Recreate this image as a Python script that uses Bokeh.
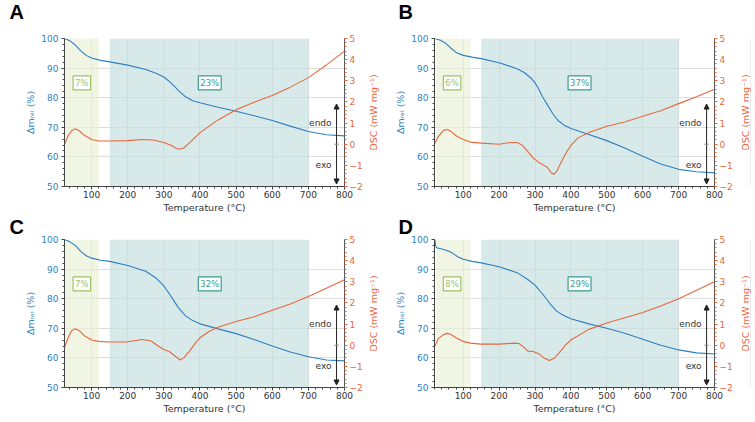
from bokeh.plotting import figure
from bokeh.models import (Range1d, LinearAxis, SingleIntervalTicker, BoxAnnotation,
                          Label, Arrow, NormalHead, Title, Spacer)
from bokeh.layouts import column, row
from bokeh.embed import file_html
from bokeh.resources import INLINE

# ---------------- data ----------------
A_T_TG = [25, 40, 55, 70, 85, 100, 125, 150, 200, 250, 280, 300, 320, 340, 360, 380, 400, 450, 500, 550, 600, 650, 700, 750, 800]
A_TG = [100, 99.2, 97.8, 95.8, 94.3, 93.4, 92.6, 92.1, 91.0, 89.5, 88.2, 87.0, 85.0, 82.5, 80.3, 79.0, 78.3, 76.8, 75.4, 73.9, 72.3, 70.4, 68.6, 67.5, 67.1]
A_T_DSC = [25, 35, 45, 55, 65, 80, 100, 120, 150, 200, 240, 270, 300, 320, 335, 345, 355, 370, 385, 400, 450, 500, 550, 600, 650, 700, 750, 800]
A_DSC = [0.0, 0.4, 0.65, 0.73, 0.65, 0.42, 0.22, 0.15, 0.15, 0.17, 0.22, 0.2, 0.08, -0.05, -0.2, -0.24, -0.18, 0.05, 0.3, 0.55, 1.15, 1.63, 1.98, 2.3, 2.7, 3.15, 3.75, 4.4]

B_T_TG = [20, 35, 50, 65, 80, 100, 125, 150, 200, 250, 270, 290, 300, 310, 320, 335, 350, 365, 380, 400, 450, 500, 550, 600, 650, 700, 750, 800]
B_TG = [100, 99.5, 98.5, 96.8, 95.3, 94.3, 93.7, 93.2, 91.8, 89.8, 88.5, 86.5, 85.0, 83.0, 80.5, 77.5, 74.5, 72.2, 70.8, 69.6, 67.6, 65.5, 63.0, 60.2, 57.6, 55.8, 55.0, 54.6]
B_T_DSC = [20, 30, 45, 55, 65, 80, 100, 120, 150, 200, 230, 250, 265, 280, 295, 310, 325, 335, 345, 352, 360, 370, 385, 400, 420, 450, 500, 550, 600, 650, 700, 750, 800]
B_DSC = [0.0, 0.35, 0.65, 0.7, 0.62, 0.4, 0.22, 0.1, 0.05, 0.0, 0.08, 0.08, -0.05, -0.35, -0.65, -0.85, -1.0, -1.1, -1.35, -1.42, -1.3, -0.95, -0.45, -0.05, 0.3, 0.55, 0.85, 1.05, 1.32, 1.58, 1.92, 2.25, 2.6]

C_T_TG = [25, 40, 55, 70, 85, 100, 125, 150, 200, 250, 280, 300, 320, 340, 360, 380, 400, 450, 500, 550, 600, 650, 700, 750, 800]
C_TG = [100, 99.2, 98.0, 96.0, 94.5, 93.7, 93.0, 92.6, 91.2, 89.3, 86.8, 84.3, 80.8, 77.0, 74.2, 72.6, 71.5, 69.8, 68.2, 66.2, 64.0, 62.0, 60.4, 59.3, 59.0]
C_T_DSC = [25, 35, 45, 55, 65, 80, 100, 120, 150, 200, 240, 265, 285, 300, 315, 330, 345, 355, 370, 385, 400, 425, 450, 500, 550, 600, 650, 700, 750, 800]
C_DSC = [-0.1, 0.35, 0.7, 0.78, 0.7, 0.45, 0.25, 0.18, 0.15, 0.16, 0.27, 0.2, -0.05, -0.2, -0.3, -0.5, -0.7, -0.6, -0.3, 0.05, 0.35, 0.65, 0.85, 1.12, 1.35, 1.65, 1.95, 2.3, 2.7, 3.1]

D_T_TG = [21, 23, 26, 40, 55, 70, 85, 100, 125, 150, 200, 250, 280, 300, 325, 345, 360, 380, 400, 450, 500, 550, 600, 650, 700, 750, 800]
D_TG = [100, 98, 97.2, 96.8, 96.3, 95.4, 94.2, 93.3, 92.6, 92.1, 90.8, 88.8, 86.5, 84.6, 81.0, 77.8, 75.8, 74.3, 73.2, 71.5, 70.0, 68.3, 66.3, 64.3, 62.7, 61.7, 61.3]
D_T_DSC = [21, 30, 45, 55, 65, 80, 100, 120, 150, 200, 240, 255, 270, 280, 295, 310, 325, 340, 355, 370, 385, 400, 450, 500, 550, 600, 650, 700, 750, 800]
D_DSC = [-0.05, 0.3, 0.5, 0.56, 0.52, 0.35, 0.18, 0.1, 0.05, 0.05, 0.1, 0.08, -0.1, -0.28, -0.3, -0.4, -0.6, -0.72, -0.6, -0.3, 0.0, 0.25, 0.75, 1.05, 1.3, 1.55, 1.85, 2.2, 2.6, 3.0]

LETTERS = ["A", "B", "C", "D"]
X_MIN = [25, 20, 25, 20]
X_MAX = 800
STAGE1 = [25, 120]      # green shaded range (°C)
STAGE2 = [150, 700]     # teal shaded range (°C)
LOSS1 = ["7%", "6%", "7%", "8%"]
LOSS2 = ["23%", "37%", "32%", "29%"]
LOSS1_X = [73, 69, 73, 69]
LOSS2_X = [427, 424, 427, 424]
LOSS_Y = 85
DSC_LABEL = "DSC (mW mg⁻¹)"

BLUE = "#2f7fbf"
ORANGE = "#e8673c"
GREEN_TXT = "#9cc463"
TEAL_TXT = "#3a9c8c"
FONT = "DejaVu Sans"
FRAME_W, FRAME_H = 280, 148


def style_letter(p, text, offset):
    p.title.text = text
    p.title.align = "left"
    p.title.offset = offset
    p.title.text_font = "Liberation Sans"
    p.title.text_font_style = "bold"
    p.title.text_font_size = "20px"
    p.title.text_color = "black"
    p.title.standoff = 0
    p.title.vertical_align = "top"


def dsc_title():
    # rotated DSC axis title (placed in the left margin of the next figure, reads bottom-to-top)
    return Title(text=DSC_LABEL, align="center", text_font=FONT, text_font_size="9.5px",
                 text_font_style="normal", text_color=ORANGE, standoff=0)


def panel(i, t_tg, tg, t_dsc, dsc, pad_left, letter_offset, pad_top, prev_dsc):
    p = figure(frame_width=FRAME_W, frame_height=FRAME_H, output_backend="svg", toolbar_location=None,
               x_range=Range1d(X_MIN[i], X_MAX), y_range=Range1d(50, 100),
               min_border=0)
    p.extra_y_ranges = {"dsc": Range1d(-2, 5)}
    p.outline_line_color = None
    p.background_fill_color = "white"

    style_letter(p, LETTERS[i], letter_offset)

    # blank spacing panels (and the DSC title of the neighbouring panel on the left)
    if pad_top:
        p.add_layout(Title(text=" ", text_font_size=pad_top, standoff=0), "above")
    if pad_left:
        p.add_layout(Title(text=" ", text_font_size=pad_left, standoff=0), "left")
    if prev_dsc:
        p.add_layout(dsc_title(), "left")

    # shaded stages
    p.add_layout(BoxAnnotation(left=max(STAGE1[0], X_MIN[i]), right=STAGE1[1], fill_color="#e9f0d6",
                               fill_alpha=0.65, line_color=None, level="underlay"))
    p.add_layout(BoxAnnotation(left=STAGE2[0], right=STAGE2[1], fill_color="#c6dfe0",
                               fill_alpha=0.68, line_color=None, level="underlay"))

    # axes
    xa = p.xaxis[0]
    xa.ticker = SingleIntervalTicker(interval=100, num_minor_ticks=5)
    xa.axis_label = "Temperature (°C)"
    ya = p.yaxis[0]
    ya.ticker = SingleIntervalTicker(interval=10, num_minor_ticks=5)
    ya.axis_label = "Δmᵣₑₗ (%)"
    ya.axis_label_text_color = BLUE
    ya.major_label_text_color = BLUE
    ra = LinearAxis(y_range_name="dsc", ticker=SingleIntervalTicker(interval=1, num_minor_ticks=5))
    ra.major_label_overrides = {-1: "−1", -2: "−2"}
    ra.major_label_text_color = ORANGE
    ra.major_tick_line_color = ORANGE
    ra.minor_tick_line_color = ORANGE
    ra.axis_line_color = "#555555"
    p.add_layout(ra, "right")
    for ax in (xa, ya, ra):
        ax.axis_label_text_font = FONT
        ax.axis_label_text_font_size = "9.5px"
        ax.axis_label_text_font_style = "normal"
        ax.major_label_text_font = FONT
        ax.major_label_text_font_size = "9px"
        ax.major_tick_out = 3
        ax.major_tick_in = 0
        ax.minor_tick_out = 2
        ax.minor_tick_in = 0
        ax.major_label_standoff = 2
        ax.axis_label_standoff = 3
    xa.major_label_standoff = 1
    xa.axis_label_standoff = 1
    ya.major_label_standoff = 3
    ya.axis_label_standoff = 2
    for ax in (xa, ya):
        ax.axis_line_color = "#444444"
        ax.major_tick_line_color = "#444444"
        ax.minor_tick_line_color = "#444444"
    xa.major_label_text_color = "#333333"
    xa.axis_label_text_color = "#333333"

    p.xgrid.grid_line_color = "#bbbbbb"
    p.xgrid.grid_line_alpha = 0.5
    p.ygrid.grid_line_color = "#bbbbbb"
    p.ygrid.grid_line_alpha = 0.5

    # curves
    p.line(t_tg, tg, line_color=BLUE, line_width=1.1)
    p.line(t_dsc, dsc, line_color=ORANGE, line_width=1.1, y_range_name="dsc")

    # mass-loss boxes
    p.add_layout(Label(x=LOSS1_X[i], y=LOSS_Y, text=LOSS1[i], text_align="center", text_baseline="middle",
                       text_font=FONT, text_font_size="8.5px", text_color=GREEN_TXT,
                       border_line_color=GREEN_TXT, border_line_width=1.2,
                       background_fill_color="white", padding=2))
    p.add_layout(Label(x=LOSS2_X[i], y=LOSS_Y, text=LOSS2[i], text_align="center", text_baseline="middle",
                       text_font=FONT, text_font_size="8.5px", text_color=TEAL_TXT,
                       border_line_color=TEAL_TXT, border_line_width=1.2,
                       background_fill_color="white", padding=2))

    # endo / exo arrow
    ax_x = 778
    p.add_layout(Arrow(x_start=ax_x, y_start=0, x_end=ax_x, y_end=1.9, y_range_name="dsc",
                       line_color="#222222", line_width=1,
                       end=NormalHead(size=5, fill_color="#222222", line_color="#222222")))
    p.add_layout(Arrow(x_start=ax_x, y_start=0, x_end=ax_x, y_end=-1.88, y_range_name="dsc",
                       line_color="#222222", line_width=1,
                       end=NormalHead(size=5, fill_color="#222222", line_color="#222222")))
    p.add_layout(Arrow(x_start=ax_x - 6, y_start=0, x_end=ax_x + 6, y_end=0, y_range_name="dsc",
                       line_color="#888888", line_width=1, end=None))
    p.add_layout(Label(x=ax_x, x_offset=-5, y=1.0, y_range_name="dsc", text="endo", text_align="right",
                       text_baseline="middle", text_font=FONT, text_font_size="9px", text_color="#333333"))
    p.add_layout(Label(x=ax_x, x_offset=-5, y=-1.0, y_range_name="dsc", text="exo", text_align="right",
                       text_baseline="middle", text_font=FONT, text_font_size="9px", text_color="#333333"))
    return p


def dsc_strip(pad_top):
    s = figure(frame_width=1, frame_height=FRAME_H, output_backend="svg", toolbar_location=None,
               x_range=Range1d(0, 1), y_range=Range1d(0, 1), x_axis_location=None, y_axis_location=None,
               min_border=0)
    s.outline_line_color = None
    s.background_fill_color = None
    s.border_fill_color = "white"
    style_letter(s, " ", 0)
    if pad_top:
        s.add_layout(Title(text=" ", text_font_size=pad_top, standoff=0), "above")
    s.add_layout(dsc_title(), "left")
    return s


pA = panel(0, A_T_TG, A_TG, A_T_DSC, A_DSC, "18px", -55, "11px", False)
pB = panel(1, B_T_TG, B_TG, B_T_DSC, B_DSC, "11px", -36, "11px", True)
sB = dsc_strip("11px")
pC = panel(2, C_T_TG, C_TG, C_T_DSC, C_DSC, "18px", -55, None, False)
pD = panel(3, D_T_TG, D_TG, D_T_DSC, D_DSC, "11px", -36, None, True)
sD = dsc_strip(None)

layout = column(row(pA, pB, Spacer(width=2), sB),
                row(pC, pD, Spacer(width=2), sD))
open("out.html", "w").write(file_html(layout, INLINE))
